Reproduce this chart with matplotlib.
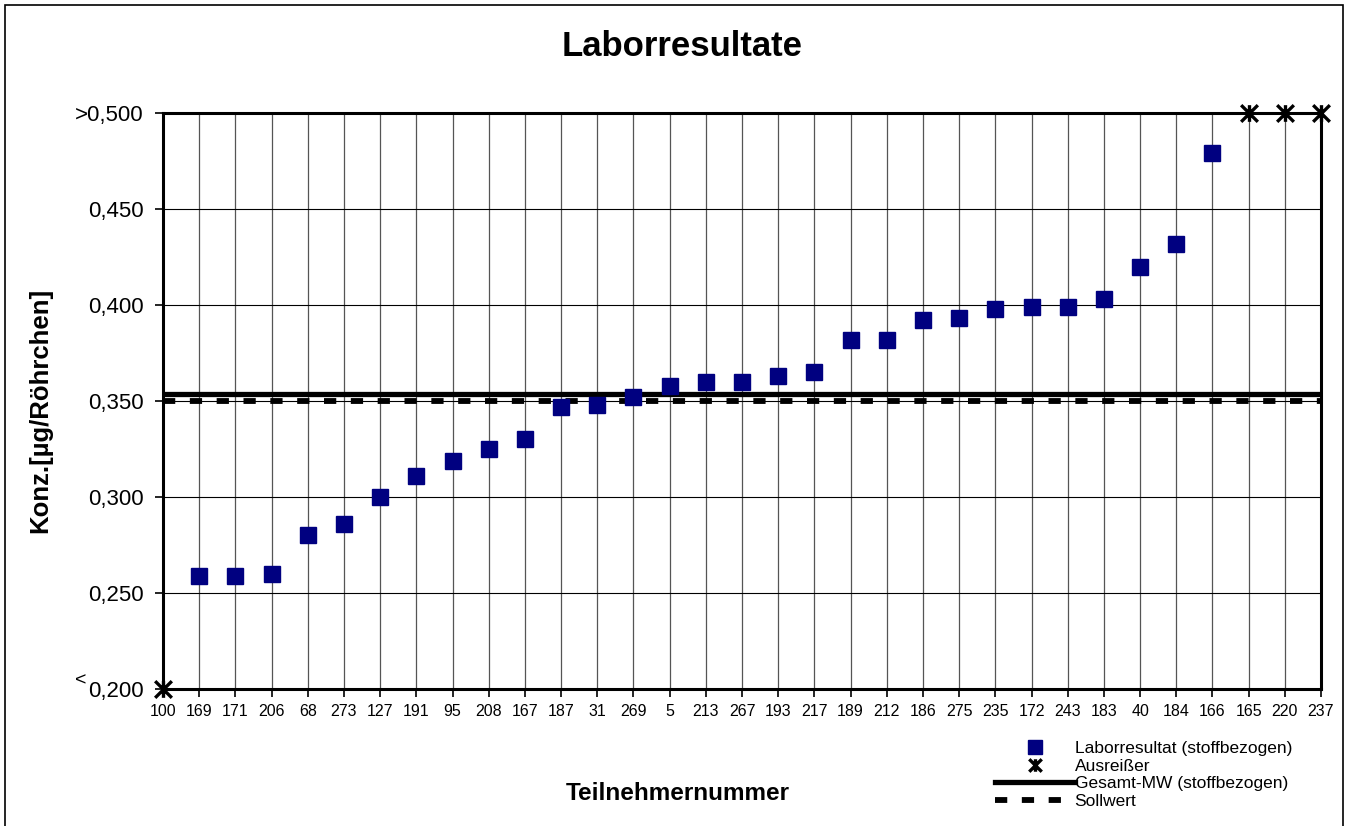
import matplotlib
matplotlib.use("Agg")
import matplotlib.pyplot as plt
from matplotlib.path import Path
from matplotlib.lines import Line2D
from matplotlib.patches import Rectangle

plt.rcParams['font.family'] = ['Liberation Sans', 'DejaVu Sans']

# participant numbers along the x axis
teilnehmer = ['100', '169', '171', '206', '68', '273', '127', '191', '95', '208',
              '167', '187', '31', '269', '5', '213', '267', '193', '217', '189',
              '212', '186', '275', '235', '172', '243', '183', '40', '184', '166',
              '165', '220', '237']

# lab results (None = outlier)
laborresultat = [None, 0.259, 0.259, 0.260, 0.280, 0.286, 0.300, 0.311, 0.319, 0.325,
                 0.330, 0.347, 0.348, 0.352, 0.358, 0.360, 0.360, 0.363, 0.365, 0.382,
                 0.382, 0.392, 0.393, 0.398, 0.399, 0.399, 0.403, 0.420, 0.432, 0.479,
                 None, None, None]

# outliers, drawn at the axis limits
ausreisser_idx = [0, 30, 31, 32]
ausreisser_val = [0.200, 0.500, 0.500, 0.500]

gesamt_mw = 0.3535
sollwert = 0.350

y_ticks = [0.200, 0.250, 0.300, 0.350, 0.400, 0.450, 0.500]
y_ticklabels = ['0,200', '0,250', '0,300', '0,350', '0,400', '0,450', '>0,500']

# Excel-like "star" marker: an x with a vertical bar
star = Path([(-1, -1), (1, 1), (-1, 1), (1, -1), (0, -1), (0, 1)],
            [Path.MOVETO, Path.LINETO, Path.MOVETO, Path.LINETO, Path.MOVETO, Path.LINETO])

fig = plt.figure(figsize=(13.55, 8.26), dpi=100)
ax = fig.add_axes([163 / 1355, 1 - 689 / 826, (1321 - 163) / 1355, (689 - 113) / 826])

xs = list(range(len(teilnehmer)))

ax.set_xlim(0, len(teilnehmer) - 1)
ax.set_ylim(0.200, 0.500)

# grid
for x in xs:
    ax.axvline(x, color='#555555', lw=0.9, zorder=1)
for y in y_ticks:
    ax.axhline(y, color='black', lw=0.8, zorder=1)

# reference lines
ax.axhline(gesamt_mw, color='black', lw=3.8, zorder=3)
ax.axhline(sollwert, color='black', lw=4.2, dashes=(2.1, 2.5), zorder=3)

# data
px = [x for x, v in zip(xs, laborresultat) if v is not None]
py = [v for v in laborresultat if v is not None]
ax.plot(px, py, ls='none', marker='s', ms=11.5, color='#000080', zorder=4, clip_on=False)
ax.plot(ausreisser_idx, ausreisser_val, ls='none', marker=star, ms=12, mew=2.4,
        color='black', zorder=5, clip_on=False)

for s in ax.spines.values():
    s.set_linewidth(2.2)

ax.set_yticks(y_ticks)
ax.set_yticklabels(y_ticklabels, fontsize=16)
ax.set_xticks(xs)
ax.set_xticklabels(teilnehmer, fontsize=11.5)
ax.tick_params(axis='y', length=6, width=1.2, pad=8)
ax.tick_params(axis='x', length=6, width=1.2, pad=5)

# raised "<" in front of the lowest tick label
ax.text(-0.066, 0.2018, '<', transform=ax.get_yaxis_transform(), ha='right', va='baseline',
        fontsize=14)

fig.text(682 / 1355, 1 - 47 / 826, 'Laborresultate', ha='center', va='center',
         fontsize=25, fontweight='bold')
fig.text(40 / 1355, 1 - 410 / 826, 'Konz.[µg/Röhrchen]', ha='center', va='center',
         rotation=90, fontsize=18.5, fontweight='bold')
fig.text(678 / 1355, 1 - 793 / 826, 'Teilnehmernummer', ha='center', va='center',
         fontsize=17.5, fontweight='bold')

handles = [
    Line2D([], [], ls='none', marker='s', ms=10, color='#000080'),
    Line2D([], [], ls='none', marker=star, ms=9, mew=2.4, color='black'),
    Line2D([], [], color='black', lw=3.8),
    Line2D([], [], color='black', lw=4.2, dashes=(2.1, 2.5)),
]
labels = ['Laborresultat (stoffbezogen)', 'Ausreißer', 'Gesamt-MW (stoffbezogen)', 'Sollwert']
fig.legend(handles, labels, loc='upper left', bbox_to_anchor=(986 / 1355, 1 - 732 / 826),
           frameon=False, fontsize=12.5, handlelength=4.6, handletextpad=0.0,
           labelspacing=0.15, borderpad=0)

# figure frame
fig.patches.append(Rectangle((5 / 1355, -0.05), (1343 - 5) / 1355, 1.05 - 5 / 826,
                             transform=fig.transFigure, fill=False, ec='black', lw=1.2))

fig.savefig('out.png', dpi=100)
